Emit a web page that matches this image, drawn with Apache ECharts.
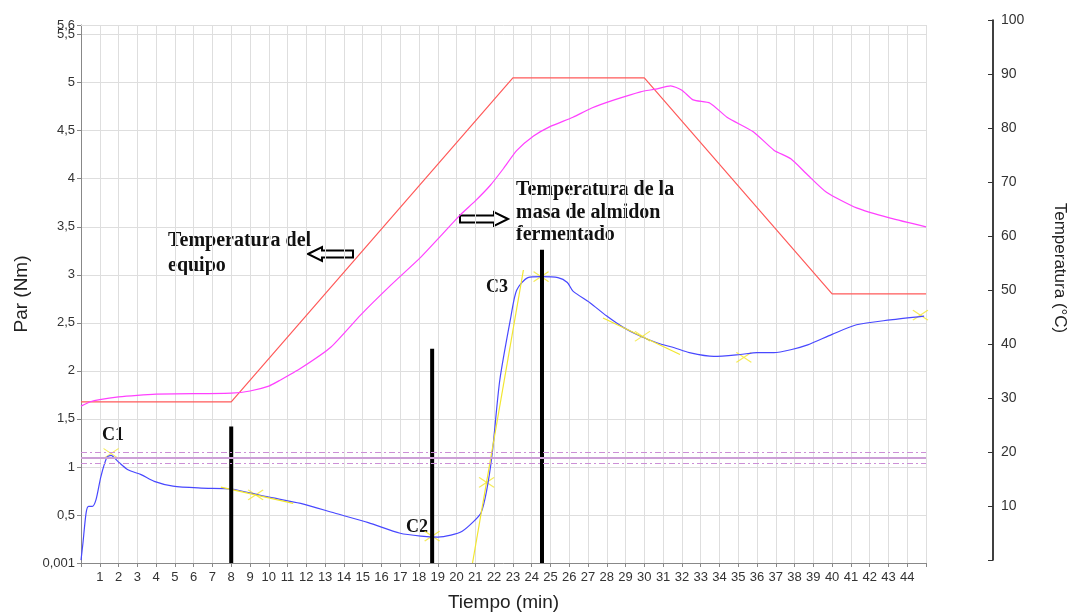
<!DOCTYPE html>
<html>
<head>
<meta charset="utf-8">
<title>Par y temperatura</title>
<script src="https://cdn.jsdelivr.net/npm/echarts@6/dist/echarts.min.js"></script>
<style>
  html, body { margin: 0; padding: 0; background: #fff; }
  #main { width: 1075px; height: 612px; }
</style>
</head>
<body>
<div id="main"></div>
<script>
// Par (Nm) de la masa - curva azul
var tiempoPar = [0, 0.1, 0.27, 0.4, 0.6, 0.8, 1.06, 1.38, 1.6, 1.95, 2.5, 3.2, 3.9, 4.9, 6.4, 8, 9.9, 11.7, 13.5, 15.3, 17, 18.1, 19, 19.7, 20.3, 20.9, 21.3, 21.6, 21.9, 22.3, 22.9, 23.2, 23.8, 24.5, 25.4, 25.9, 26.2, 27.1, 28, 28.9, 29.8, 30.7, 31.6, 32.4, 33.7, 35.1, 36, 36.9, 37.8, 38.7, 40, 41.3, 43.1, 44.9];
var par = [0.03, 0.2, 0.52, 0.59, 0.59, 0.66, 0.9, 1.1, 1.12, 1.06, 0.97, 0.92, 0.85, 0.8, 0.78, 0.77, 0.69, 0.62, 0.52, 0.42, 0.31, 0.28, 0.27, 0.29, 0.33, 0.43, 0.52, 0.75, 1.14, 1.9, 2.57, 2.84, 2.97, 2.98, 2.97, 2.92, 2.83, 2.71, 2.57, 2.45, 2.36, 2.29, 2.24, 2.19, 2.15, 2.17, 2.19, 2.19, 2.22, 2.27, 2.38, 2.48, 2.53, 2.57];

// Temperatura de la masa de almidon fermentado (magenta)
var tiempoMasa = [0, 0.5, 1, 2, 3, 4, 6, 8, 9, 10, 10.6, 11.7, 13.3, 14.9, 16.5, 18.1, 19.1, 20.2, 21, 21.8, 22.5, 23.2, 24.1, 25, 26.2, 27.2, 28.4, 29.8, 30.6, 31.4, 32, 32.6, 33.5, 34.4, 35.8, 36.9, 37.8, 38.7, 39.7, 41.3, 43.1, 45];
var tempMasa = [28.5, 29.3, 29.7, 30.2, 30.5, 30.7, 30.8, 30.9, 31.3, 32.2, 33.3, 35.5, 39.4, 45.4, 50.9, 56.1, 59.8, 63.9, 66.5, 69.4, 72.5, 75.8, 78.5, 80.3, 82, 83.7, 85.2, 86.7, 87.2, 87.8, 87, 85.2, 84.6, 82, 79.3, 75.9, 74.3, 71.3, 68.1, 65.2, 63.3, 61.7];

// Temperatura del equipo (rojo)
var tiempoEquipo = [0, 8, 23, 30, 40, 45];
var tempEquipo = [29.3, 29.3, 89.3, 89.3, 49.3, 49.3];

// Tangentes (amarillo)
var tangTiempo1 = [7.45, 11.3];
var tangPar1 = [0.79, 0.62];
var tangTiempo2 = [20.85, 23.56];
var tangPar2 = [0, 3.05];
var tangTiempo3 = [27.8, 31.9];
var tangPar3 = [2.55, 2.17];

// Marcas (cruces amarillas)
var cruzTiempo = [1.6, 9.3, 18.7, 21.6, 24.5, 29.9, 35.3, 44.7];
var cruzPar = [1.14, 0.71, 0.28, 0.84, 2.98, 2.36, 2.14, 2.58];

// Barras negras C1, C2, C3
var barraTiempo = [8, 18.7, 24.55];
var barraAlto = [1.42, 2.23, 3.26];

// Limites horizontales
var limiteCentral = 1.10;
var limitesBanda = [1.04, 1.15];

// Marcas del eje de par (5,6 va en un eje aparte para que no se oculte)
var ticksPar = [0, 0.5, 1, 1.5, 2, 2.5, 3, 3.5, 4, 4.5, 5, 5.5];
var tickParMax = [5.6];

function pares(xs, ys) {
  return xs.map(function (x, i) { return [x, ys[i]]; });
}

var myChart = echarts.init(document.getElementById('main'));

var series = [
  {
    name: 'Temperatura del equipo', type: 'line', xAxisIndex: 1, yAxisIndex: 1,
    data: pares(tiempoEquipo, tempEquipo), symbol: 'none',
    lineStyle: { color: '#ff5a5a', width: 1.2 }
  },
  {
    name: 'Temperatura masa', type: 'line', xAxisIndex: 1, yAxisIndex: 1,
    data: pares(tiempoMasa, tempMasa), symbol: 'none', smooth: 0.2,
    lineStyle: { color: '#ff40ff', width: 1.2 }
  },
  {
    name: 'Limites', type: 'line', xAxisIndex: 0, yAxisIndex: 0, data: [],
    markLine: {
      silent: true, symbol: 'none', label: { show: false },
      data: [
        { yAxis: limiteCentral, lineStyle: { color: '#cc9fd6', width: 2, type: 'solid' } },
        { yAxis: limitesBanda[0], lineStyle: { color: '#cc8fd6', width: 1, type: [6, 3, 2, 3] } },
        { yAxis: limitesBanda[1], lineStyle: { color: '#cc8fd6', width: 1, type: [6, 3, 2, 3] } },
        { yAxis: 5.6, lineStyle: { color: '#dedede', width: 1, type: 'solid' } }
      ]
    }
  },
  {
    name: 'Par', type: 'line', xAxisIndex: 0, yAxisIndex: 0,
    data: pares(tiempoPar, par), symbol: 'none', smooth: 0.25,
    lineStyle: { color: '#4848ff', width: 1.2 }
  }
];

[[tangTiempo1, tangPar1], [tangTiempo2, tangPar2], [tangTiempo3, tangPar3]].forEach(function (t) {
  series.push({
    type: 'line', xAxisIndex: 0, yAxisIndex: 0, data: pares(t[0], t[1]), symbol: 'none',
    lineStyle: { color: '#f2e62e', width: 1.2 }
  });
});

series.push({
  type: 'scatter', xAxisIndex: 0, yAxisIndex: 0, data: pares(cruzTiempo, cruzPar),
  symbol: 'path://M0,0L20,14M20,0L0,14', symbolSize: [15, 10],
  itemStyle: { color: 'none', borderColor: '#f2e62e', borderWidth: 1.2 }
});

barraTiempo.forEach(function (t, i) {
  series.push({
    type: 'line', xAxisIndex: 0, yAxisIndex: 0, data: [[t, 0], [t, barraAlto[i]]], symbol: 'none',
    lineStyle: { color: '#000', width: 4 }
  });
});

var txt = '#333';
var sans = 'Arial, "Liberation Sans", sans-serif';
var serif = '"Liberation Serif", "DejaVu Serif", serif';

function fmtPar(v) {
  return v === 0 ? '0,001' : String(+v.toFixed(1)).replace('.', ',');
}

myChart.setOption({
  animation: false,
  backgroundColor: '#fff',
  grid: [
    { left: 81, right: 149, top: 25, bottom: 49, outerBoundsMode: 'none' },
    { left: 81, right: 149, top: 20, bottom: 52, outerBoundsMode: 'none' }
  ],
  xAxis: [
    {
      type: 'value', gridIndex: 0, min: 0, max: 45, interval: 1,
      name: 'Tiempo (min)', nameLocation: 'middle', nameGap: 30,
      nameTextStyle: { fontFamily: sans, fontSize: 19, color: '#222' },
      axisLine: { lineStyle: { color: '#888' } },
      axisTick: { show: true, length: 4, lineStyle: { color: '#888' } },
      axisLabel: {
        color: txt, fontSize: 13, margin: 8, fontFamily: sans,
        formatter: function (v) { return (v === 0 || v === 45) ? '' : String(v); }
      },
      splitLine: { lineStyle: { color: '#dedede' } }
    },
    { type: 'value', gridIndex: 1, min: 0, max: 45, show: false }
  ],
  yAxis: [
    {
      type: 'value', gridIndex: 0, min: 0, max: 5.6, interval: 0.5,
      name: 'Par (Nm)', nameLocation: 'middle', nameGap: 50,
      nameTextStyle: { fontFamily: sans, fontSize: 19, color: '#222' },
      axisLine: { show: true, onZero: false, lineStyle: { color: '#888' } },
      axisTick: { show: true, length: 4, customValues: ticksPar, lineStyle: { color: '#888' } },
      axisLabel: {
        color: txt, fontSize: 13, margin: 6, fontFamily: sans, customValues: ticksPar,
        formatter: fmtPar
      },
      splitLine: { lineStyle: { color: '#dedede' } }
    },
    {
      type: 'value', gridIndex: 1, position: 'right', offset: 67, min: 0, max: 100, interval: 10,
      name: 'Temperatura (°C)', nameLocation: 'middle', nameGap: 58, nameRotate: -90,
      nameTextStyle: { fontFamily: sans, fontSize: 17, color: '#222', padding: [0, 44, 0, 0] },
      axisLine: { show: true, onZero: false, lineStyle: { color: '#000', width: 1.5 } },
      axisTick: { show: true, inside: true, length: 5, lineStyle: { color: '#333' } },
      axisLabel: {
        color: txt, fontSize: 14, margin: 8, fontFamily: sans,
        formatter: function (v) { return v === 0 ? '' : String(v); }
      },
      splitLine: { show: false }
    },
    {
      type: 'value', gridIndex: 0, position: 'left', min: 0, max: 5.6,
      axisLine: { show: false, onZero: false },
      axisTick: { show: true, length: 4, customValues: tickParMax, lineStyle: { color: '#888' } },
      axisLabel: {
        color: txt, fontSize: 13, margin: 6, fontFamily: sans, customValues: tickParMax,
        showMaxLabel: true, formatter: fmtPar
      },
      splitLine: { show: false }
    }
  ],
  graphic: [
    { type: 'text', x: 168, y: 228, style: { text: 'Temperatura del\nequipo', font: 'bold 20px ' + serif, fill: '#111', lineHeight: 25 } },
    { type: 'text', x: 516, y: 179, style: { text: 'Temperatura de la\nmasa de almidon\nfermentado', font: 'bold 20px ' + serif, fill: '#111', lineHeight: 22.5 } },
    { type: 'text', x: 113, y: 435, style: { text: 'C1', font: 'bold 18px ' + serif, fill: '#111', align: 'center', verticalAlign: 'middle' } },
    { type: 'text', x: 417, y: 527, style: { text: 'C2', font: 'bold 18px ' + serif, fill: '#111', align: 'center', verticalAlign: 'middle' } },
    { type: 'text', x: 497, y: 287, style: { text: 'C3', font: 'bold 18px ' + serif, fill: '#111', align: 'center', verticalAlign: 'middle' } },
    // flechas huecas
    {
      type: 'polygon',
      shape: { points: [[308, 254], [322, 247], [322, 250.5], [353, 250.5], [353, 257.5], [322, 257.5], [322, 261]] },
      style: { fill: '#fff', stroke: '#000', lineWidth: 2 }
    },
    {
      type: 'polygon',
      shape: { points: [[508, 219], [494, 212], [494, 215.5], [460, 215.5], [460, 222.5], [494, 222.5], [494, 226]] },
      style: { fill: '#fff', stroke: '#000', lineWidth: 2 }
    }
  ],
  series: series
});

window.addEventListener('resize', function () {
  myChart.resize();
});
</script>
</body>
</html>
